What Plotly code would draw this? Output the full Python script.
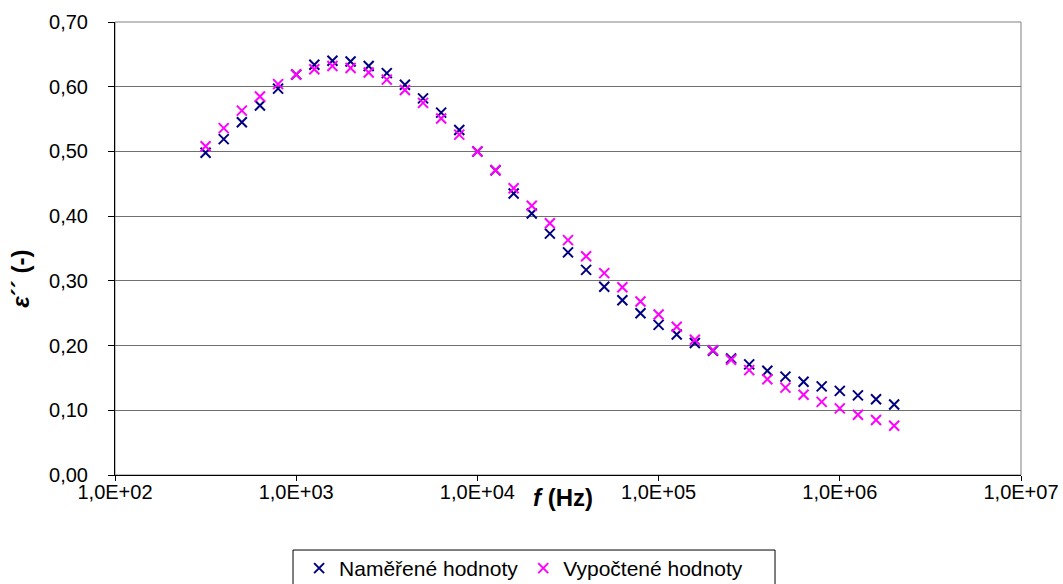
import numpy as np
import plotly.graph_objects as go

# Frequencies: 10 points per decade, 10^2.5 .. 10^6.3 Hz
log_f = [2.5, 2.6, 2.7, 2.8, 2.9, 3.0, 3.1, 3.2, 3.3, 3.4, 3.5, 3.6, 3.7, 3.8, 3.9,
         4.0, 4.1, 4.2, 4.3, 4.4, 4.5, 4.6, 4.7, 4.8, 4.9, 5.0, 5.1, 5.2, 5.3, 5.4,
         5.5, 5.6, 5.7, 5.8, 5.9, 6.0, 6.1, 6.2, 6.3]
freq = [10 ** v for v in log_f]

# Measured loss factor
measured = [0.498, 0.519, 0.545, 0.571, 0.597, 0.619, 0.634, 0.640, 0.639, 0.632,
            0.621, 0.603, 0.582, 0.560, 0.533, 0.500, 0.471, 0.435, 0.404, 0.373,
            0.344, 0.317, 0.291, 0.270, 0.250, 0.232, 0.217, 0.204, 0.192, 0.180,
            0.171, 0.161, 0.152, 0.144, 0.137, 0.130, 0.123, 0.117, 0.109]

# Calculated loss factor
calculated = [0.508, 0.536, 0.563, 0.585, 0.604, 0.619, 0.627, 0.632, 0.629, 0.622,
              0.611, 0.595, 0.575, 0.551, 0.526, 0.500, 0.471, 0.443, 0.416, 0.389,
              0.363, 0.338, 0.312, 0.290, 0.268, 0.248, 0.229, 0.209, 0.193, 0.178,
              0.162, 0.148, 0.135, 0.124, 0.113, 0.103, 0.093, 0.085, 0.076]

x_tick_exp = [2, 3, 4, 5, 6, 7]
x_tick_vals = [10 ** e for e in x_tick_exp]
x_tick_text = ["1,0E+%02d" % e for e in x_tick_exp]

FONT = "Liberation Sans, Arial, sans-serif"

fig = go.Figure()
fig.add_trace(go.Scatter(
    x=freq, y=measured, mode="markers", name="Naměřené hodnoty",
    marker=dict(symbol="x-thin", size=10, color="#000080",
                line=dict(color="#000080", width=2)),
))
fig.add_trace(go.Scatter(
    x=freq, y=calculated, mode="markers", name="Vypočtené hodnoty",
    marker=dict(symbol="x-thin", size=10, color="#FF00FF",
                line=dict(color="#FF00FF", width=2)),
))

fig.update_layout(
    width=1063, height=584,
    margin=dict(l=115, r=42, t=22, b=109, autoexpand=False),
    paper_bgcolor="white", plot_bgcolor="white",
    separators=", ",
    font=dict(family=FONT, size=20, color="black"),
    showlegend=True,
    legend=dict(
        orientation="h", x=0.451, xanchor="center", y=-0.161, yanchor="top",
        bgcolor="rgba(0,0,0,0)", borderwidth=0, font=dict(size=21),
        tracegroupgap=0,
    ),
    xaxis=dict(
        type="log", range=[2, 7],
        tickvals=x_tick_vals, ticktext=x_tick_text,
        ticks="outside", ticklen=5, tickcolor="black",
        ticklabelstandoff=-6,
        showline=True, linecolor="black", linewidth=1,
        showgrid=False, zeroline=False,
    ),
    yaxis=dict(
        range=[0, 0.70], dtick=0.1, tickformat=".2f",
        ticks="outside", ticklen=6, tickcolor="black",
        ticklabelstandoff=16,
        showline=True, linecolor="black", linewidth=1,
        showgrid=True, gridcolor="#707070", gridwidth=1,
        zeroline=False,
    ),
    shapes=[
        # plot-area frame
        dict(type="rect", xref="paper", yref="paper", x0=0, x1=1, y0=0, y1=1,
             line=dict(color="#808080", width=1), layer="below"),
        # legend frame
        dict(type="rect", xref="paper", yref="paper",
             x0=0.1965, x1=0.7285, y0=-0.1656, y1=-0.30,
             line=dict(color="black", width=1), layer="below"),
    ],
    annotations=[
        dict(text="<b><i>f</i> (Hz)</b>", xref="paper", yref="paper",
             x=0.495, y=-0.049, xanchor="center", yanchor="middle",
             showarrow=False, font=dict(size=24)),
        dict(text="<b><i>ε</i>´´ (-)</b>", xref="paper", yref="paper",
             x=-0.104, y=0.433, xanchor="center", yanchor="middle",
             textangle=-90, showarrow=False, font=dict(size=24)),
    ],
)

fig.write_html("out.html")
